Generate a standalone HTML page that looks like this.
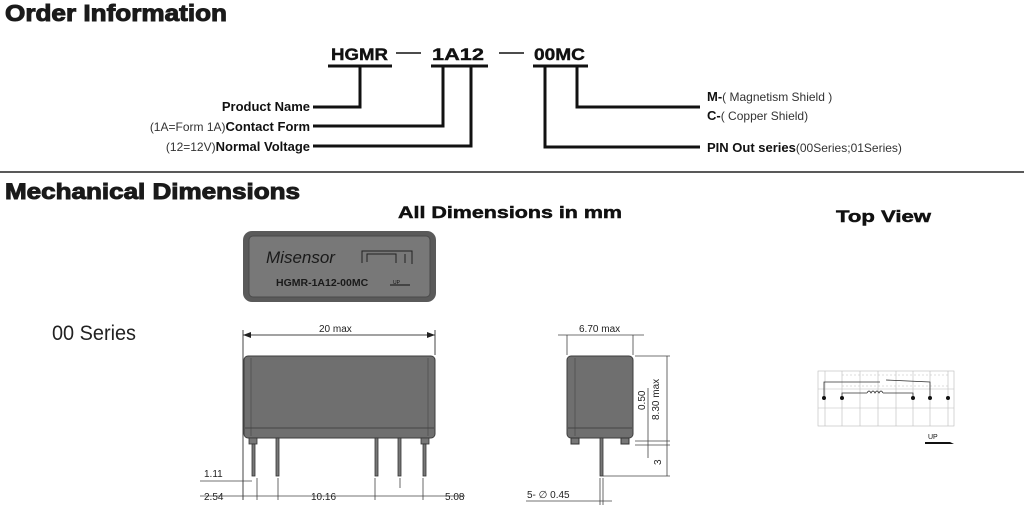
<!DOCTYPE html>
<html><head><meta charset="utf-8"><style>
html,body{margin:0;padding:0;background:#fff;}
svg{display:block;}
text{font-family:"Liberation Sans",Arial,sans-serif;}
</style></head><body>
<svg width="1024" height="526" viewBox="0 0 1024 526" xmlns="http://www.w3.org/2000/svg">
<defs>
<marker id="a" markerWidth="8" markerHeight="6" refX="8" refY="3" orient="auto-start-reverse" markerUnits="userSpaceOnUse"><path d="M0,0 L8,3 L0,6 z" fill="#222"/></marker>
</defs>
<text x="5" y="21" font-size="23" font-weight="bold" fill="#1a1a1a" stroke="#1a1a1a" stroke-width="1" textLength="222" lengthAdjust="spacingAndGlyphs">Order Information</text>
<g font-weight="bold" font-size="17" fill="#111" stroke="#111" stroke-width="0.4">
<text x="331" y="60" textLength="57" lengthAdjust="spacingAndGlyphs">HGMR</text>
<text x="432" y="60" textLength="52" lengthAdjust="spacingAndGlyphs">1A12</text>
<text x="534" y="60" textLength="51" lengthAdjust="spacingAndGlyphs">00MC</text>
</g>
<g stroke="#111" stroke-width="1.5"><line x1="396" y1="53" x2="421" y2="53"/><line x1="499" y1="53" x2="524" y2="53"/></g>
<g stroke="#111" stroke-width="3" fill="none">
<line x1="328" y1="66" x2="392" y2="66"/>
<line x1="431" y1="66" x2="488" y2="66"/>
<line x1="533" y1="66" x2="588" y2="66"/>
<polyline points="360,66 360,107 313,107"/>
<polyline points="443,66 443,126 313,126"/>
<polyline points="471,66 471,146 313,146"/>
<polyline points="577,66 577,107 700,107"/>
<polyline points="545,66 545,147 700,147"/>
</g>
<g font-size="13" fill="#111">
<text x="310" y="111" text-anchor="end" font-weight="bold">Product Name</text>
<text x="310" y="131" text-anchor="end"><tspan font-size="12" fill="#333">(1A=Form 1A)</tspan><tspan font-weight="bold">Contact Form</tspan></text>
<text x="310" y="151" text-anchor="end"><tspan font-size="12" fill="#333">(12=12V)</tspan><tspan font-weight="bold">Normal Voltage</tspan></text>
<text x="707" y="101"><tspan font-weight="bold">M-</tspan><tspan font-size="12" fill="#333">( Magnetism Shield )</tspan></text>
<text x="707" y="120"><tspan font-weight="bold">C-</tspan><tspan font-size="12" fill="#333">( Copper  Shield)</tspan></text>
<text x="707" y="152"><tspan font-weight="bold">PIN Out series</tspan><tspan font-size="12" fill="#333">(00Series;01Series)</tspan></text>
</g>
<line x1="0" y1="172" x2="1024" y2="172" stroke="#222" stroke-width="1.5"/>
<text x="5" y="199" font-size="22" font-weight="bold" fill="#1a1a1a" stroke="#1a1a1a" stroke-width="1" textLength="295" lengthAdjust="spacingAndGlyphs">Mechanical Dimensions</text>
<text x="398" y="218" font-size="17" font-weight="bold" fill="#111" stroke="#111" stroke-width="0.5" textLength="224" lengthAdjust="spacingAndGlyphs">All Dimensions in mm</text>
<text x="836" y="222" font-size="17" font-weight="bold" fill="#111" stroke="#111" stroke-width="0.5" textLength="95" lengthAdjust="spacingAndGlyphs">Top View</text>
<text x="52" y="340" font-size="21" fill="#222" textLength="84" lengthAdjust="spacingAndGlyphs">00 Series</text>

<rect x="243" y="231" width="193" height="71" rx="9" fill="#5a5a5a"/>
<rect x="249" y="236" width="181" height="61" rx="4" fill="#787878" stroke="#4a4a4a"/>
<text x="266" y="263" font-size="17" font-style="italic" fill="#1a1a1a">Misensor</text>
<text x="276" y="286" font-size="10.5" font-weight="bold" fill="#1a1a1a">HGMR-1A12-00MC</text>
<g stroke="#222" fill="none" stroke-width="1"><polyline points="362,263 362,251 412,251 412,264"/><polyline points="367,262 367,254 396,254 396,263"/><line x1="405" y1="254" x2="405" y2="263"/></g>
<text x="393" y="284" font-size="5" fill="#111">UP</text><line x1="390" y1="285" x2="410" y2="285" stroke="#111"/>

<g stroke="#444" stroke-width="1">
<line x1="243" y1="330" x2="243" y2="500"/><line x1="435" y1="330" x2="435" y2="355"/>
<line x1="243" y1="335" x2="435" y2="335" marker-start="url(#a)" marker-end="url(#a)"/>
</g>
<text x="319" y="332" font-size="10" fill="#222">20 max</text>
<rect x="244" y="356" width="191" height="82" rx="4" fill="#6f6f6f" stroke="#3e3e3e"/>
<line x1="251" y1="358" x2="251" y2="436" stroke="#555"/><line x1="428" y1="358" x2="428" y2="436" stroke="#555"/>
<line x1="245" y1="428" x2="434" y2="428" stroke="#444"/>
<g fill="#777" stroke="#333" stroke-width="0.8">
<rect x="249" y="438" width="8" height="6"/><rect x="421" y="438" width="8" height="6"/>
<rect x="252" y="444" width="3" height="32"/><rect x="276" y="438" width="3" height="38"/><rect x="375" y="438" width="3" height="38"/><rect x="398" y="438" width="3" height="38"/><rect x="423" y="444" width="3" height="32"/>
</g>
<g stroke="#444" stroke-width="0.8">
<line x1="257" y1="478" x2="257" y2="500"/><line x1="278" y1="478" x2="278" y2="500"/><line x1="375" y1="478" x2="375" y2="500"/><line x1="400" y1="478" x2="400" y2="488"/><line x1="423" y1="478" x2="423" y2="500"/>
<line x1="200" y1="481" x2="252" y2="481"/><line x1="200" y1="496" x2="465" y2="496"/>
</g>
<g font-size="10" fill="#222">
<text x="204" y="477">1.11</text><text x="204" y="500">2.54</text><text x="311" y="500">10.16</text><text x="445" y="500">5.08</text>
</g>

<g stroke="#444" stroke-width="0.8">
<line x1="567" y1="335" x2="567" y2="355"/><line x1="633" y1="335" x2="633" y2="355"/>
<line x1="558" y1="335" x2="644" y2="335"/>
<line x1="635" y1="356" x2="670" y2="356"/><line x1="635" y1="441" x2="670" y2="441"/><line x1="635" y1="445" x2="670" y2="445"/><line x1="603" y1="476" x2="670" y2="476"/>
<line x1="667" y1="356" x2="667" y2="476"/><line x1="648" y1="388" x2="648" y2="458"/>
<line x1="526" y1="501" x2="612" y2="501"/><line x1="600" y1="478" x2="600" y2="505"/><line x1="603" y1="478" x2="603" y2="505"/>
</g>
<text x="579" y="332" font-size="10" fill="#222">6.70 max</text>
<text x="659" y="420" font-size="10" fill="#222" transform="rotate(-90 659 420)">8.30 max</text>
<text x="645" y="410" font-size="10" fill="#222" transform="rotate(-90 645 410)">0.50</text>
<text x="661" y="465" font-size="10" fill="#222" transform="rotate(-90 661 465)">3</text>
<text x="527" y="498" font-size="10" fill="#222">5- ∅ 0.45</text>
<rect x="567" y="356" width="66" height="82" rx="4" fill="#6f6f6f" stroke="#3e3e3e"/>
<line x1="575" y1="358" x2="575" y2="436" stroke="#555"/><line x1="568" y1="428" x2="632" y2="428" stroke="#444"/>
<rect x="571" y="438" width="8" height="6" fill="#777" stroke="#333"/><rect x="621" y="438" width="8" height="6" fill="#777" stroke="#333"/>
<rect x="600" y="438" width="3" height="38" fill="#777" stroke="#333" stroke-width="0.8"/>

<g stroke="#bbb" stroke-width="0.6" fill="none">
<rect x="818" y="371" width="136" height="55"/>
<line x1="825" y1="371" x2="825" y2="426"/><line x1="842" y1="371" x2="842" y2="426"/><line x1="860" y1="371" x2="860" y2="426"/><line x1="878" y1="371" x2="878" y2="426"/><line x1="896" y1="371" x2="896" y2="426"/><line x1="913" y1="371" x2="913" y2="426"/><line x1="930" y1="371" x2="930" y2="426"/><line x1="948" y1="371" x2="948" y2="426"/>
<line x1="818" y1="389" x2="954" y2="389"/><line x1="818" y1="408" x2="954" y2="408"/>
<line x1="842" y1="375" x2="948" y2="375" stroke-dasharray="2,2"/><line x1="842" y1="386" x2="948" y2="386" stroke-dasharray="2,2"/>
</g>
<g stroke="#333" stroke-width="0.8" fill="none">
<polyline points="824,398 824,382 880,382"/><polyline points="886,380 930,382 930,398"/>
<polyline points="842,398 842,393 867,393"/><polyline points="883,393 913,393 913,398"/>
<path d="M867,393 q2,-4 4,0 q2,-4 4,0 q2,-4 4,0 q2,-4 4,0"/>
</g>
<g fill="#111"><circle cx="824" cy="398" r="2"/><circle cx="842" cy="398" r="2"/><circle cx="913" cy="398" r="2"/><circle cx="930" cy="398" r="2"/><circle cx="948" cy="398" r="2"/></g>
<text x="928" y="439" font-size="7" fill="#111">UP</text>
<path d="M925,442 L950,442 L954,444 L925,444z" fill="#111"/>
</svg>
</body></html>
